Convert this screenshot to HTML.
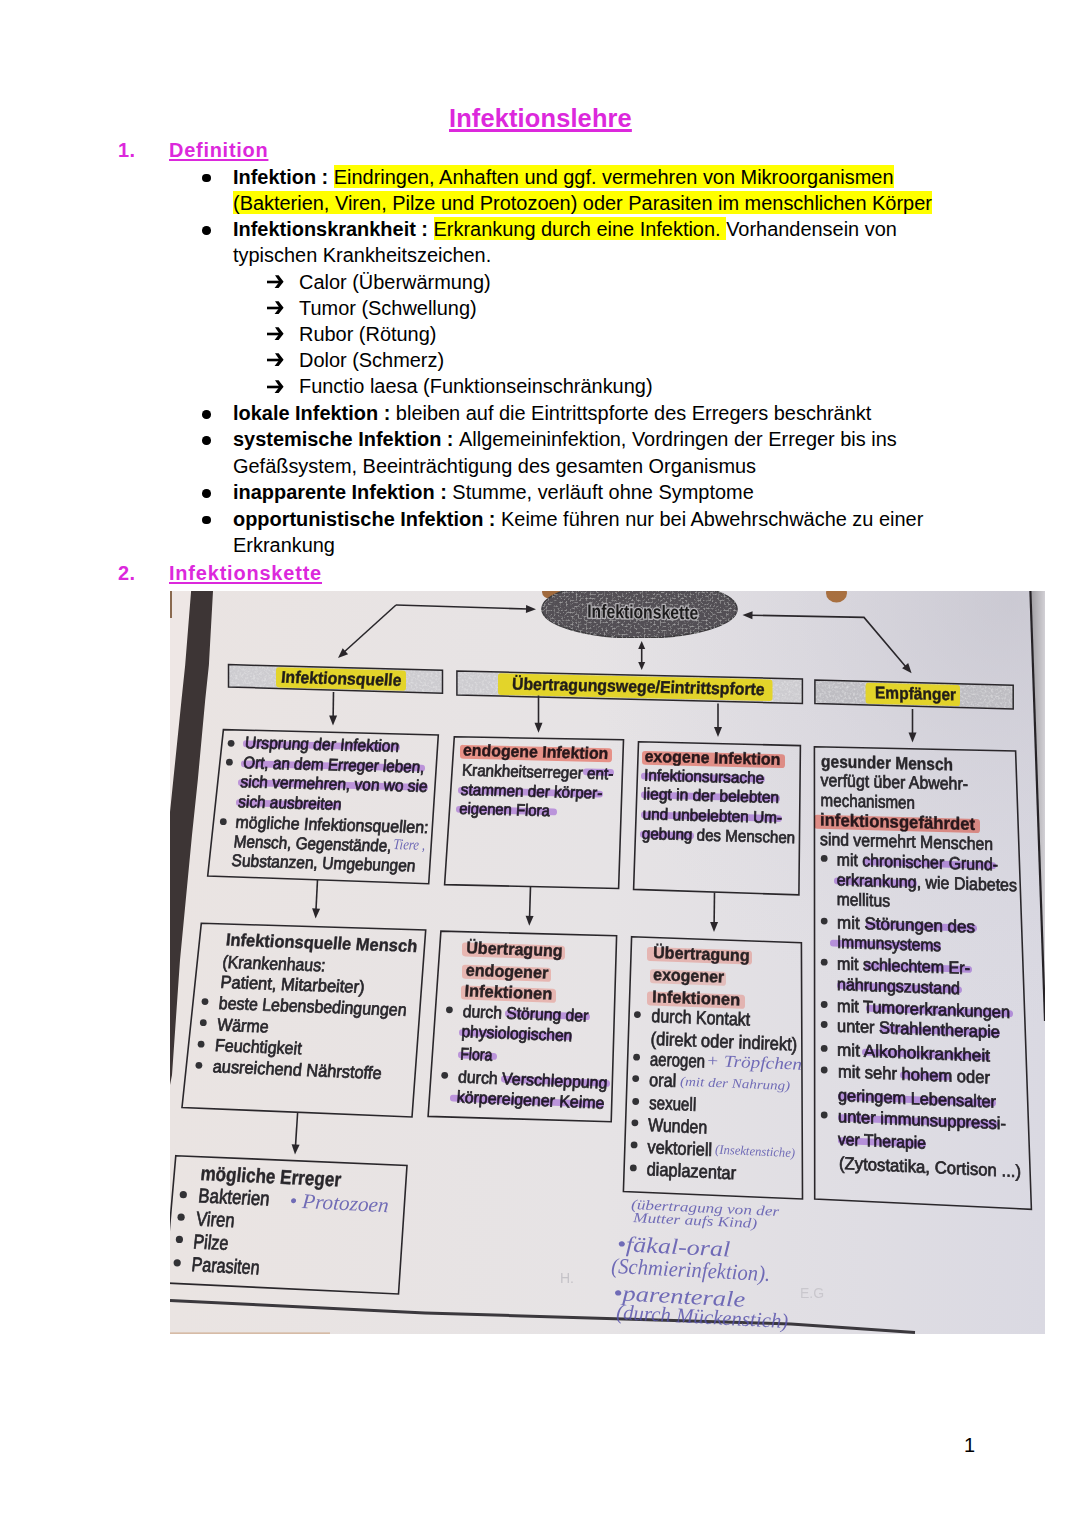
<!DOCTYPE html>
<html><head><meta charset="utf-8">
<style>
html,body{margin:0;padding:0;background:#fff;}
body{width:1080px;height:1525px;position:relative;overflow:hidden;font-family:"Liberation Sans",sans-serif;color:#000;}
.l{position:absolute;font-size:19.95px;line-height:26.4px;white-space:nowrap;}
.b{font-weight:bold;}
.hl{background:#ffff00;padding:1px 0 0 0;}
.mg{color:#dc28dc;font-weight:bold;}
.u{text-decoration:underline;text-decoration-thickness:2px;text-underline-offset:2px;}
.ut{text-decoration-thickness:2.5px;}
.blt{position:absolute;width:8.5px;height:8.5px;border-radius:50%;background:#000;margin:0.25px 0 0 0.1px;}
.ar{display:block;}
#photo{position:absolute;left:0;top:0;}
</style></head><body>
<div class="l mg u ut" style="left:449px;top:103px;font-size:25.4px;line-height:30px;letter-spacing:0.15px;">Infektionslehre</div>
<div class="l mg" style="left:118px;top:136.5px;letter-spacing:0.5px;">1.</div>
<div class="l mg u" style="left:169px;top:136.5px;letter-spacing:0.75px;">Definition</div>

<div class="blt" style="left:202px;top:173.5px"></div>
<div class="l" style="left:233px;top:163.5px;"><span class="b">Infektion : </span><span class="hl">Eindringen, Anhaften und ggf. vermehren von Mikroorganismen</span></div>
<div class="l" style="left:233px;top:190px;"><span class="hl">(Bakterien, Viren, Pilze und Protozoen) oder Parasiten im menschlichen Körper</span></div>
<div class="blt" style="left:202px;top:226px"></div>
<div class="l" style="left:233px;top:216px;"><span class="b">Infektionskrankheit : </span><span class="hl">Erkrankung durch eine Infektion. </span>Vorhandensein von</div>
<div class="l" style="left:233px;top:242.4px;">typischen Krankheitszeichen.</div>
<div style="position:absolute;left:267px;top:273.9px;width:20px;height:16px;"><svg class="ar" width="20" height="16" viewBox="0 -8 20 16"><rect x="0" y="-1.3" width="13" height="2.6" fill="#000"/><path d="M8,-6.8 L11.6,-6.8 L16.6,-0.2 L11.6,6 L7.6,6 L12.4,-0.2 Z" fill="#000"/></svg></div><div class="l" style="left:299px;top:268.5px;">Calor (Überwärmung)</div>
<div style="position:absolute;left:267px;top:299.9px;width:20px;height:16px;"><svg class="ar" width="20" height="16" viewBox="0 -8 20 16"><rect x="0" y="-1.3" width="13" height="2.6" fill="#000"/><path d="M8,-6.8 L11.6,-6.8 L16.6,-0.2 L11.6,6 L7.6,6 L12.4,-0.2 Z" fill="#000"/></svg></div><div class="l" style="left:299px;top:294.5px;">Tumor (Schwellung)</div>
<div style="position:absolute;left:267px;top:326.2px;width:20px;height:16px;"><svg class="ar" width="20" height="16" viewBox="0 -8 20 16"><rect x="0" y="-1.3" width="13" height="2.6" fill="#000"/><path d="M8,-6.8 L11.6,-6.8 L16.6,-0.2 L11.6,6 L7.6,6 L12.4,-0.2 Z" fill="#000"/></svg></div><div class="l" style="left:299px;top:320.8px;">Rubor (Rötung)</div>
<div style="position:absolute;left:267px;top:352.4px;width:20px;height:16px;"><svg class="ar" width="20" height="16" viewBox="0 -8 20 16"><rect x="0" y="-1.3" width="13" height="2.6" fill="#000"/><path d="M8,-6.8 L11.6,-6.8 L16.6,-0.2 L11.6,6 L7.6,6 L12.4,-0.2 Z" fill="#000"/></svg></div><div class="l" style="left:299px;top:347px;">Dolor (Schmerz)</div>
<div style="position:absolute;left:267px;top:378.6px;width:20px;height:16px;"><svg class="ar" width="20" height="16" viewBox="0 -8 20 16"><rect x="0" y="-1.3" width="13" height="2.6" fill="#000"/><path d="M8,-6.8 L11.6,-6.8 L16.6,-0.2 L11.6,6 L7.6,6 L12.4,-0.2 Z" fill="#000"/></svg></div><div class="l" style="left:299px;top:373.2px;">Functio laesa (Funktionseinschränkung)</div>
<div class="blt" style="left:202px;top:410px"></div>
<div class="l" style="left:233px;top:400px;"><span class="b">lokale Infektion : </span>bleiben auf die Eintrittspforte des Erregers beschränkt</div>
<div class="blt" style="left:202px;top:436px"></div>
<div class="l" style="left:233px;top:426.4px;"><span class="b">systemische Infektion : </span>Allgemeininfektion, Vordringen der Erreger bis ins</div>
<div class="l" style="left:233px;top:452.8px;">Gefäßsystem, Beeinträchtigung des gesamten Organismus</div>
<div class="blt" style="left:202px;top:489px"></div>
<div class="l" style="left:233px;top:479.2px;"><span class="b">inapparente Infektion : </span>Stumme, verläuft ohne Symptome</div>
<div class="blt" style="left:202px;top:515.5px"></div>
<div class="l" style="left:233px;top:505.6px;"><span class="b">opportunistische Infektion : </span>Keime führen nur bei Abwehrschwäche zu einer</div>
<div class="l" style="left:233px;top:532px;">Erkrankung</div>
<div class="l mg" style="left:118px;top:559.5px;letter-spacing:0.5px;">2.</div>
<div class="l mg u" style="left:169px;top:559.5px;letter-spacing:0.82px;">Infektionskette</div>

<div class="l" style="left:964px;top:1432px;">1</div>

<!--PHOTO-->
<svg id="photo" width="1080" height="1525" viewBox="0 0 1080 1525" font-family="Liberation Sans, sans-serif">
<defs>
<linearGradient id="bg" x1="0" y1="0" x2="1" y2="0"><stop offset="0" stop-color="rgb(234,228,226)"/><stop offset="0.5" stop-color="rgb(230,227,229)"/><stop offset="1" stop-color="rgb(218,217,226)"/></linearGradient>
<radialGradient id="tr" gradientUnits="userSpaceOnUse" cx="1010" cy="600" r="430"><stop offset="0" stop-color="rgb(190,188,198)" stop-opacity="0.55"/><stop offset="0.5" stop-color="rgb(200,198,208)" stop-opacity="0.25"/><stop offset="1" stop-color="rgb(210,208,218)" stop-opacity="0"/></radialGradient>
<linearGradient id="rs" x1="0" y1="0" x2="1" y2="0"><stop offset="0" stop-color="#a09ea2"/><stop offset="1" stop-color="#d2d0d5"/></linearGradient>
<clipPath id="pc"><rect x="170" y="591" width="875" height="743"/></clipPath>
<filter id="soft" x="0" y="0" width="1" height="1"><feGaussianBlur stdDeviation="0.4"/></filter>
<filter id="spk" x="0" y="0" width="1" height="1"><feTurbulence type="fractalNoise" baseFrequency="0.45" numOctaves="2" seed="7" result="t"/><feColorMatrix in="t" type="matrix" values="0 0 0 0 0.85  0 0 0 0 0.85  0 0 0 0 0.86  1.3 0 0 0 -0.58" result="w"/><feComposite in="w" in2="SourceGraphic" operator="in" result="wn"/><feMerge><feMergeNode in="SourceGraphic"/><feMergeNode in="wn"/></feMerge></filter>
<filter id="spk2" x="0" y="0" width="1" height="1"><feTurbulence type="fractalNoise" baseFrequency="0.5" numOctaves="2" seed="11" result="t"/><feColorMatrix in="t" type="matrix" values="0 0 0 0 0.8  0 0 0 0 0.8  0 0 0 0 0.8  1.2 0 0 0 -0.6" result="w"/><feComposite in="w" in2="SourceGraphic" operator="in" result="wn"/><feMerge><feMergeNode in="SourceGraphic"/><feMergeNode in="wn"/></feMerge></filter>
</defs>
<g clip-path="url(#pc)">
<g filter="url(#soft)">
<rect x="170" y="591" width="875" height="743" fill="url(#bg)"/>
<rect x="170" y="591" width="875" height="743" fill="url(#tr)"/>
<polygon points="170,591 192,591 170,815" fill="#eee7e5"/>
<polygon points="191.1,591 213,591 208.9,665 205.2,700 197.8,780 192,835 180,960 172,1075 170,1085 170,812 173.3,780 181.5,700 185.2,665" fill="#3d3534"/>
<line x1="171" y1="591" x2="171" y2="618" stroke="#8a6a50" stroke-width="2"/>
<polygon points="1031,591 1045,591 1045,1020" fill="url(#rs)"/>
<line x1="1030.4" y1="591" x2="1045" y2="1021" stroke="#262428" stroke-width="2.2"/>
<line x1="170" y1="1333.2" x2="330" y2="1333.2" stroke="#cfae92" stroke-width="1.2"/>
<ellipse cx="551" cy="592" rx="9" ry="7" fill="#a06a3e"/>
<ellipse cx="836.5" cy="593" rx="10.5" ry="9.5" fill="#a8703f"/>
<ellipse cx="639.5" cy="609" rx="97.6" ry="29" fill="#525055" stroke="#3c3a3e" stroke-width="1.4" filter="url(#spk2)"/>
<text transform="matrix(1,0.015,0,1,587.2,617.6)" font-size="19" font-weight="bold" fill="#1c1a1c" stroke="#b4b2b6" stroke-width="2.6" paint-order="stroke" textLength="111" lengthAdjust="spacingAndGlyphs">Infektionskette</text>
<polyline points="396,605 528,609" fill="none" stroke="#2a282c" stroke-width="1.6"/>
<polygon points="536.0,609.3 525.9,613.0 526.1,605.0" fill="#2a282c"/>
<polyline points="396,605 343,653" fill="none" stroke="#2a282c" stroke-width="1.6"/>
<polygon points="338.0,658.0 342.7,648.3 348.1,654.3" fill="#2a282c"/>
<polyline points="750,615.2 864,617.4 906,667" fill="none" stroke="#2a282c" stroke-width="1.6"/>
<polygon points="742.5,615.0 752.6,611.2 752.4,619.2" fill="#2a282c"/>
<polygon points="911.6,673.2 902.1,668.2 908.2,663.0" fill="#2a282c"/>
<line x1="641.7" y1="647.0" x2="641.7" y2="664.0" stroke="#2a282c" stroke-width="1.6"/>
<polygon points="641.7,641.0 645.2,649.0 638.2,649.0" fill="#2a282c"/>
<polygon points="641.7,670.0 638.2,662.0 645.2,662.0" fill="#2a282c"/>
<polygon points="228.5,664.6 442.5,670.3 442.5,693.3 228.5,687.0" fill="#cdccd0" filter="url(#spk)"/>
<polygon points="228.5,664.6 442.5,670.3 442.5,693.3 228.5,687.0" fill="none" stroke="#2a282c" stroke-width="1.5"/>
<rect transform="matrix(1,0.0266,0,1,276.0,667.2)" x="0" y="0" width="130.0" height="20.1" rx="3" fill="#e4d421" opacity="0.95"/>
<text transform="matrix(1,0.0266,-0.0913,1,280.7,682.7)" font-size="17" font-weight="bold" fill="#221f1a" stroke="#221f1a" stroke-width="0.4" textLength="120.3" lengthAdjust="spacingAndGlyphs">Infektionsquelle</text>
<polygon points="456.9,671.1 802.4,678.9 802.4,703.5 456.9,695.0" fill="#cdccd0" filter="url(#spk)"/>
<polygon points="456.9,671.1 802.4,678.9 802.4,703.5 456.9,695.0" fill="none" stroke="#2a282c" stroke-width="1.5"/>
<rect transform="matrix(1,0.0226,0,1,498.0,673.3)" x="0" y="0" width="274.5" height="21.6" rx="3" fill="#e4d421" opacity="0.95"/>
<text transform="matrix(1,0.0226,-0.0522,1,511.7,689.4)" font-size="17" font-weight="bold" fill="#221f1a" stroke="#221f1a" stroke-width="0.4" textLength="252.7" lengthAdjust="spacingAndGlyphs">Übertragungswege/Eintrittspforte</text>
<polygon points="814.9,680.1 1013.2,685.2 1013.2,708.9 814.9,703.4" fill="#bebdc2" filter="url(#spk)"/>
<polygon points="814.9,680.1 1013.2,685.2 1013.2,708.9 814.9,703.4" fill="none" stroke="#2a282c" stroke-width="1.5"/>
<rect transform="matrix(1,0.0257,0,1,865.6,682.7)" x="0" y="0" width="94.4" height="21.0" rx="3" fill="#e4d421" opacity="0.95"/>
<text transform="matrix(1,0.0257,0.0094,1,875.0,698.3)" font-size="17" font-weight="bold" fill="#221f1a" stroke="#221f1a" stroke-width="0.4" textLength="81.1" lengthAdjust="spacingAndGlyphs">Empfänger</text>
<line x1="333.5" y1="692.0" x2="333.1" y2="718.5" stroke="#2a282c" stroke-width="1.6"/>
<polygon points="333.0,725.5 329.1,715.4 337.1,715.6" fill="#2a282c"/>
<line x1="538.5" y1="695.5" x2="538.5" y2="725.7" stroke="#2a282c" stroke-width="1.6"/>
<polygon points="538.5,732.7 534.5,722.7 542.5,722.7" fill="#2a282c"/>
<line x1="718.0" y1="703.5" x2="718.0" y2="730.0" stroke="#2a282c" stroke-width="1.6"/>
<polygon points="718.0,737.0 714.0,727.0 722.0,727.0" fill="#2a282c"/>
<line x1="912.5" y1="709.0" x2="912.5" y2="735.4" stroke="#2a282c" stroke-width="1.6"/>
<polygon points="912.5,742.4 908.5,732.4 916.5,732.4" fill="#2a282c"/>
<polygon points="223.4,729.6 438.3,735.0 428.7,883.7 207.7,876.0" fill="none" stroke="#2a282c" stroke-width="1.6"/>
<polygon points="454.3,736.8 623.5,739.7 618.6,888.5 444.6,884.6" fill="none" stroke="#2a282c" stroke-width="1.6"/>
<polygon points="638.5,741.7 800.4,745.6 798.9,894.9 633.6,889.4" fill="none" stroke="#2a282c" stroke-width="1.6"/>
<polygon points="814.4,746.7 1015.6,751.0 1031.4,1209.3 814.7,1199.1" fill="none" stroke="#2a282c" stroke-width="1.6"/>
<polygon points="201.3,923.3 425.7,930.0 412.0,1117.0 182.0,1107.5" fill="none" stroke="#2a282c" stroke-width="1.6"/>
<polygon points="440.9,931.1 616.6,935.8 611.2,1121.7 428.1,1116.4" fill="none" stroke="#2a282c" stroke-width="1.6"/>
<polygon points="631.6,936.7 801.4,942.7 802.5,1199.0 623.4,1191.5" fill="none" stroke="#2a282c" stroke-width="1.6"/>
<polygon points="175.8,1155.7 407.0,1165.4 398.5,1294.0 164.7,1283.0" fill="none" stroke="#2a282c" stroke-width="1.6"/>
<line x1="317.5" y1="880.0" x2="315.9" y2="911.5" stroke="#2a282c" stroke-width="1.6"/>
<polygon points="315.6,918.5 312.1,908.3 320.1,908.7" fill="#2a282c"/>
<line x1="530.5" y1="886.5" x2="529.5" y2="918.8" stroke="#2a282c" stroke-width="1.6"/>
<polygon points="529.3,925.8 525.6,915.7 533.6,915.9" fill="#2a282c"/>
<line x1="714.5" y1="892.5" x2="714.1" y2="925.0" stroke="#2a282c" stroke-width="1.6"/>
<polygon points="714.0,932.0 710.1,922.0 718.1,922.1" fill="#2a282c"/>
<line x1="297.6" y1="1113.0" x2="295.4" y2="1147.5" stroke="#2a282c" stroke-width="1.6"/>
<polygon points="295.0,1154.5 291.6,1144.3 299.6,1144.8" fill="#2a282c"/>
<polyline points="170,1300.5 425,1313 791,1324 915,1332.5" fill="none" stroke="#3a383c" stroke-width="3"/>
<circle cx="231.1" cy="743.3" r="3.4" fill="#333136"/>
<circle cx="229.4" cy="762.2" r="3.4" fill="#333136"/>
<circle cx="223.3" cy="821.7" r="3.4" fill="#333136"/>
<text transform="matrix(1,0.0235,-0.0975,1,244.4,748.3)" font-size="17" fill="#29272c" stroke="#29272c" stroke-width="0.7" textLength="154.2" lengthAdjust="spacingAndGlyphs">Ursprung der Infektion</text>
<text transform="matrix(1,0.0246,-0.0977,1,242.8,768.3)" font-size="17" fill="#29272c" stroke="#29272c" stroke-width="0.7" textLength="181.2" lengthAdjust="spacingAndGlyphs">Ort, an dem Erreger leben,</text>
<text transform="matrix(1,0.0255,-0.0982,1,240.0,787.2)" font-size="17" fill="#29272c" stroke="#29272c" stroke-width="0.7" textLength="187.0" lengthAdjust="spacingAndGlyphs">sich vermehren, von wo sie</text>
<text transform="matrix(1,0.0266,-0.0986,1,237.8,807.2)" font-size="17" fill="#29272c" stroke="#29272c" stroke-width="0.7" textLength="103.2" lengthAdjust="spacingAndGlyphs">sich ausbreiten</text>
<text transform="matrix(1,0.0276,-0.0991,1,235.0,827.8)" font-size="17" fill="#29272c" stroke="#29272c" stroke-width="0.7" textLength="193.0" lengthAdjust="spacingAndGlyphs">mögliche Infektionsquellen:</text>
<text transform="matrix(1,0.0287,-0.0994,1,233.3,847.2)" font-size="17" fill="#29272c" stroke="#29272c" stroke-width="0.7" textLength="157.7" lengthAdjust="spacingAndGlyphs">Mensch, Gegenstände,</text>
<text transform="matrix(1,0.0287,-0.0723,1,393.0,849.0)" font-size="15" fill="#5752ad" textLength="32.0" lengthAdjust="spacingAndGlyphs" opacity="0.85" font-family="Liberation Serif, serif" font-style="italic">Tiere ,</text>
<text transform="matrix(1,0.0296,-0.0997,1,231.1,866.1)" font-size="17" fill="#29272c" stroke="#29272c" stroke-width="0.7" textLength="183.9" lengthAdjust="spacingAndGlyphs">Substanzen, Umgebungen</text>
<text transform="matrix(1,0.0239,-0.0605,1,462.8,755.6)" font-size="16.5" font-weight="bold" fill="#29272c" stroke="#29272c" stroke-width="0.4" textLength="145.2" lengthAdjust="spacingAndGlyphs">endogene Infektion</text>
<text transform="matrix(1,0.0249,-0.0606,1,461.7,775.6)" font-size="16.5" fill="#29272c" stroke="#29272c" stroke-width="0.7" textLength="151.3" lengthAdjust="spacingAndGlyphs">Krankheitserreger ent-</text>
<text transform="matrix(1,0.0259,-0.0608,1,460.6,795.0)" font-size="16.5" fill="#29272c" stroke="#29272c" stroke-width="0.7" textLength="141.4" lengthAdjust="spacingAndGlyphs">stammen der körper-</text>
<text transform="matrix(1,0.0269,-0.0611,1,458.9,813.9)" font-size="16.5" fill="#29272c" stroke="#29272c" stroke-width="0.7" textLength="90.5" lengthAdjust="spacingAndGlyphs">eigenen Flora</text>
<text transform="matrix(1,0.0242,-0.0297,1,644.4,761.7)" font-size="16.5" font-weight="bold" fill="#29272c" stroke="#29272c" stroke-width="0.4" textLength="136.0" lengthAdjust="spacingAndGlyphs">exogene Infektion</text>
<text transform="matrix(1,0.0252,-0.0298,1,643.9,780.6)" font-size="16.5" fill="#29272c" stroke="#29272c" stroke-width="0.7" textLength="120.1" lengthAdjust="spacingAndGlyphs">Infektionsursache</text>
<text transform="matrix(1,0.0262,-0.0299,1,643.1,799.4)" font-size="16.5" fill="#29272c" stroke="#29272c" stroke-width="0.7" textLength="135.9" lengthAdjust="spacingAndGlyphs">liegt in der belebten</text>
<text transform="matrix(1,0.0272,-0.0300,1,642.4,819.4)" font-size="16.5" fill="#29272c" stroke="#29272c" stroke-width="0.7" textLength="139.6" lengthAdjust="spacingAndGlyphs">und unbelebten Um-</text>
<text transform="matrix(1,0.0282,-0.0301,1,641.7,838.9)" font-size="16.5" fill="#29272c" stroke="#29272c" stroke-width="0.7" textLength="153.3" lengthAdjust="spacingAndGlyphs">gebung des Menschen</text>
<text transform="matrix(1,0.0245,0.0003,1,821.1,767.2)" font-size="17.5" font-weight="bold" fill="#29272c" stroke="#29272c" stroke-width="0.4" textLength="131.9" lengthAdjust="spacingAndGlyphs">gesunder Mensch</text>
<text transform="matrix(1,0.0255,0.0002,1,820.6,786.1)" font-size="17.5" fill="#29272c" stroke="#29272c" stroke-width="0.7" textLength="147.4" lengthAdjust="spacingAndGlyphs">verfügt über Abwehr-</text>
<text transform="matrix(1,0.0265,0.0002,1,820.6,806.1)" font-size="17.5" fill="#29272c" stroke="#29272c" stroke-width="0.7" textLength="94.4" lengthAdjust="spacingAndGlyphs">mechanismen</text>
<text transform="matrix(1,0.0275,0.0001,1,820.0,825.6)" font-size="17.5" font-weight="bold" fill="#29272c" stroke="#29272c" stroke-width="0.4" textLength="155.0" lengthAdjust="spacingAndGlyphs">infektionsgefährdet</text>
<text transform="matrix(1,0.0285,0.0001,1,820.0,845.0)" font-size="17.5" fill="#29272c" stroke="#29272c" stroke-width="0.7" textLength="173.0" lengthAdjust="spacingAndGlyphs">sind vermehrt Menschen</text>
<circle cx="824.2" cy="858.4" r="3.4" fill="#333136"/>
<text transform="matrix(1,0.0296,0.0029,1,836.7,865.6)" font-size="17.5" fill="#29272c" stroke="#29272c" stroke-width="0.7" textLength="161.3" lengthAdjust="spacingAndGlyphs">mit chronischer Grund-</text>
<text transform="matrix(1,0.0307,0.0029,1,836.7,885.6)" font-size="17.5" fill="#29272c" stroke="#29272c" stroke-width="0.7" textLength="180.3" lengthAdjust="spacingAndGlyphs">erkrankung, wie Diabetes</text>
<text transform="matrix(1,0.0317,0.0029,1,836.7,905.0)" font-size="17.5" fill="#29272c" stroke="#29272c" stroke-width="0.7" textLength="53.3" lengthAdjust="spacingAndGlyphs">mellitus</text>
<circle cx="824.2" cy="921.1" r="3.4" fill="#333136"/>
<text transform="matrix(1,0.0329,0.0030,1,837.0,928.3)" font-size="17.5" fill="#29272c" stroke="#29272c" stroke-width="0.7" textLength="138.0" lengthAdjust="spacingAndGlyphs">mit Störungen des</text>
<text transform="matrix(1,0.0339,0.0030,1,837.0,947.8)" font-size="17.5" fill="#29272c" stroke="#29272c" stroke-width="0.7" textLength="104.0" lengthAdjust="spacingAndGlyphs">Immunsystems</text>
<circle cx="824.2" cy="962.2" r="3.4" fill="#333136"/>
<text transform="matrix(1,0.0350,0.0030,1,837.0,969.4)" font-size="17.5" fill="#29272c" stroke="#29272c" stroke-width="0.7" textLength="133.0" lengthAdjust="spacingAndGlyphs">mit schlechtem Er-</text>
<text transform="matrix(1,0.0361,0.0030,1,837.0,990.0)" font-size="17.5" fill="#29272c" stroke="#29272c" stroke-width="0.7" textLength="123.0" lengthAdjust="spacingAndGlyphs">nährungszustand</text>
<circle cx="824.2" cy="1004.5" r="3.4" fill="#333136"/>
<text transform="matrix(1,0.0372,0.0030,1,837.0,1011.7)" font-size="17.5" fill="#29272c" stroke="#29272c" stroke-width="0.7" textLength="173.0" lengthAdjust="spacingAndGlyphs">mit Tumorerkrankungen</text>
<circle cx="824.2" cy="1024.5" r="3.4" fill="#333136"/>
<text transform="matrix(1,0.0382,0.0030,1,837.0,1031.7)" font-size="17.5" fill="#29272c" stroke="#29272c" stroke-width="0.7" textLength="163.0" lengthAdjust="spacingAndGlyphs">unter Strahlentherapie</text>
<circle cx="824.2" cy="1048.4" r="3.4" fill="#333136"/>
<text transform="matrix(1,0.0395,0.0030,1,837.0,1055.6)" font-size="17.5" fill="#29272c" stroke="#29272c" stroke-width="0.7" textLength="153.0" lengthAdjust="spacingAndGlyphs">mit Alkoholkrankheit</text>
<circle cx="824.2" cy="1070.0" r="3.4" fill="#333136"/>
<text transform="matrix(1,0.0406,0.0031,1,838.0,1077.2)" font-size="17.5" fill="#29272c" stroke="#29272c" stroke-width="0.7" textLength="152.0" lengthAdjust="spacingAndGlyphs">mit sehr hohem oder</text>
<text transform="matrix(1,0.0419,0.0031,1,838.0,1101.1)" font-size="17.5" fill="#29272c" stroke="#29272c" stroke-width="0.7" textLength="158.0" lengthAdjust="spacingAndGlyphs">geringem Lebensalter</text>
<circle cx="824.2" cy="1115.0" r="3.4" fill="#333136"/>
<text transform="matrix(1,0.0430,0.0031,1,838.0,1122.2)" font-size="17.5" fill="#29272c" stroke="#29272c" stroke-width="0.7" textLength="168.0" lengthAdjust="spacingAndGlyphs">unter immunsuppressi-</text>
<text transform="matrix(1,0.0441,0.0031,1,838.0,1145.0)" font-size="17.5" fill="#29272c" stroke="#29272c" stroke-width="0.7" textLength="88.0" lengthAdjust="spacingAndGlyphs">ver Therapie</text>
<text transform="matrix(1,0.0454,0.0033,1,839.0,1168.9)" font-size="17.5" fill="#29272c" stroke="#29272c" stroke-width="0.7" textLength="182.0" lengthAdjust="spacingAndGlyphs">(Zytostatika, Cortison ...)</text>
<text transform="matrix(1,0.0338,-0.1007,1,225.4,945.6)" font-size="17.5" font-weight="bold" fill="#29272c" stroke="#29272c" stroke-width="0.4" textLength="191.3" lengthAdjust="spacingAndGlyphs">Infektionsquelle Mensch</text>
<text transform="matrix(1,0.0349,-0.1013,1,222.0,967.8)" font-size="17.5" fill="#29272c" stroke="#29272c" stroke-width="0.7" textLength="103.0" lengthAdjust="spacingAndGlyphs">(Krankenhaus:</text>
<text transform="matrix(1,0.0360,-0.1016,1,220.0,987.8)" font-size="17.5" fill="#29272c" stroke="#29272c" stroke-width="0.7" textLength="144.0" lengthAdjust="spacingAndGlyphs">Patient, Mitarbeiter)</text>
<circle cx="205.0" cy="1001.6" r="3.4" fill="#333136"/>
<circle cx="203.3" cy="1022.7" r="3.4" fill="#333136"/>
<circle cx="201.1" cy="1044.2" r="3.4" fill="#333136"/>
<circle cx="198.9" cy="1065.3" r="3.4" fill="#333136"/>
<text transform="matrix(1,0.0371,-0.1019,1,218.3,1008.9)" font-size="17.5" fill="#29272c" stroke="#29272c" stroke-width="0.7" textLength="187.7" lengthAdjust="spacingAndGlyphs">beste Lebensbedingungen</text>
<text transform="matrix(1,0.0382,-0.1022,1,216.7,1030.6)" font-size="17.5" fill="#29272c" stroke="#29272c" stroke-width="0.7" textLength="51.3" lengthAdjust="spacingAndGlyphs">Wärme</text>
<text transform="matrix(1,0.0393,-0.1026,1,214.4,1051.1)" font-size="17.5" fill="#29272c" stroke="#29272c" stroke-width="0.7" textLength="86.7" lengthAdjust="spacingAndGlyphs">Feuchtigkeit</text>
<text transform="matrix(1,0.0404,-0.1029,1,212.2,1072.2)" font-size="17.5" fill="#29272c" stroke="#29272c" stroke-width="0.7" textLength="168.8" lengthAdjust="spacingAndGlyphs">ausreichend Nährstoffe</text>
<text transform="matrix(1,0.0342,-0.0599,1,466.0,953.3)" font-size="17" font-weight="bold" fill="#29272c" stroke="#29272c" stroke-width="0.4" textLength="96.3" lengthAdjust="spacingAndGlyphs">Übertragung</text>
<text transform="matrix(1,0.0353,-0.0600,1,465.4,975.7)" font-size="17" font-weight="bold" fill="#29272c" stroke="#29272c" stroke-width="0.4" textLength="82.6" lengthAdjust="spacingAndGlyphs">endogener</text>
<text transform="matrix(1,0.0364,-0.0602,1,464.2,996.4)" font-size="17" font-weight="bold" fill="#29272c" stroke="#29272c" stroke-width="0.4" textLength="87.8" lengthAdjust="spacingAndGlyphs">Infektionen</text>
<circle cx="449.4" cy="1009.8" r="3.4" fill="#333136"/>
<circle cx="444.7" cy="1075.3" r="3.4" fill="#333136"/>
<text transform="matrix(1,0.0375,-0.0605,1,462.4,1017.0)" font-size="17" fill="#29272c" stroke="#29272c" stroke-width="0.7" textLength="125.6" lengthAdjust="spacingAndGlyphs">durch Störung der</text>
<text transform="matrix(1,0.0385,-0.0607,1,461.2,1037.1)" font-size="17" fill="#29272c" stroke="#29272c" stroke-width="0.7" textLength="110.8" lengthAdjust="spacingAndGlyphs">physiologischen</text>
<text transform="matrix(1,0.0397,-0.0609,1,460.0,1059.5)" font-size="17" fill="#29272c" stroke="#29272c" stroke-width="0.7" textLength="32.0" lengthAdjust="spacingAndGlyphs">Flora</text>
<text transform="matrix(1,0.0409,-0.0613,1,457.7,1082.5)" font-size="17" fill="#29272c" stroke="#29272c" stroke-width="0.7" textLength="149.3" lengthAdjust="spacingAndGlyphs">durch Verschleppung</text>
<text transform="matrix(1,0.0419,-0.0615,1,456.5,1102.6)" font-size="17" fill="#29272c" stroke="#29272c" stroke-width="0.7" textLength="147.5" lengthAdjust="spacingAndGlyphs">körpereigener Keime</text>
<text transform="matrix(1,0.0344,-0.0282,1,653.0,958.0)" font-size="17" font-weight="bold" fill="#29272c" stroke="#29272c" stroke-width="0.4" textLength="96.5" lengthAdjust="spacingAndGlyphs">Übertragung</text>
<text transform="matrix(1,0.0356,-0.0282,1,653.0,980.2)" font-size="17" font-weight="bold" fill="#29272c" stroke="#29272c" stroke-width="0.4" textLength="71.0" lengthAdjust="spacingAndGlyphs">exogener</text>
<text transform="matrix(1,0.0367,-0.0284,1,652.1,1002.3)" font-size="17" font-weight="bold" fill="#29272c" stroke="#29272c" stroke-width="0.4" textLength="87.9" lengthAdjust="spacingAndGlyphs">Infektionen</text>
<circle cx="637.4" cy="1014.6" r="3.4" fill="#333136"/>
<circle cx="636.6" cy="1057.2" r="3.4" fill="#333136"/>
<circle cx="635.7" cy="1078.6" r="3.4" fill="#333136"/>
<circle cx="635.7" cy="1101.5" r="3.4" fill="#333136"/>
<circle cx="634.9" cy="1122.8" r="3.4" fill="#333136"/>
<circle cx="634.1" cy="1144.9" r="3.4" fill="#333136"/>
<circle cx="633.3" cy="1167.9" r="3.4" fill="#333136"/>
<text transform="matrix(1,0.0377,-0.0285,1,651.3,1022.0)" font-size="18.5" fill="#29272c" stroke="#29272c" stroke-width="0.7" textLength="98.7" lengthAdjust="spacingAndGlyphs">durch Kontakt</text>
<text transform="matrix(1,0.0389,-0.0286,1,650.5,1044.9)" font-size="18.5" fill="#29272c" stroke="#29272c" stroke-width="0.7" textLength="146.5" lengthAdjust="spacingAndGlyphs">(direkt oder indirekt)</text>
<text transform="matrix(1,0.0400,-0.0288,1,649.7,1065.4)" font-size="18.5" fill="#29272c" stroke="#29272c" stroke-width="0.7" textLength="55.3" lengthAdjust="spacingAndGlyphs">aerogen</text>
<text transform="matrix(1,0.0411,-0.0289,1,649.0,1085.9)" font-size="18.5" fill="#29272c" stroke="#29272c" stroke-width="0.7" textLength="27.0" lengthAdjust="spacingAndGlyphs">oral</text>
<text transform="matrix(1,0.0423,-0.0289,1,648.9,1108.9)" font-size="18.5" fill="#29272c" stroke="#29272c" stroke-width="0.7" textLength="47.1" lengthAdjust="spacingAndGlyphs">sexuell</text>
<text transform="matrix(1,0.0434,-0.0291,1,648.0,1131.0)" font-size="18.5" fill="#29272c" stroke="#29272c" stroke-width="0.7" textLength="59.0" lengthAdjust="spacingAndGlyphs">Wunden</text>
<text transform="matrix(1,0.0446,-0.0292,1,647.2,1153.1)" font-size="18.5" fill="#29272c" stroke="#29272c" stroke-width="0.7" textLength="64.8" lengthAdjust="spacingAndGlyphs">vektoriell</text>
<text transform="matrix(1,0.0457,-0.0293,1,646.4,1175.2)" font-size="18.5" fill="#29272c" stroke="#29272c" stroke-width="0.7" textLength="89.6" lengthAdjust="spacingAndGlyphs">diaplazentar</text>
<text transform="matrix(1,0.0460,-0.1050,1,199.9,1180.0)" font-size="20" font-weight="bold" fill="#29272c" stroke="#29272c" stroke-width="0.4" textLength="140.4" lengthAdjust="spacingAndGlyphs">mögliche Erreger</text>
<circle cx="183.3" cy="1194.7" r="3.6" fill="#333136"/>
<circle cx="181.1" cy="1217.2" r="3.6" fill="#333136"/>
<circle cx="179.4" cy="1239.4" r="3.6" fill="#333136"/>
<circle cx="177.2" cy="1262.8" r="3.6" fill="#333136"/>
<text transform="matrix(1,0.0471,-0.1054,1,197.8,1202.2)" font-size="20" fill="#29272c" stroke="#29272c" stroke-width="0.7" textLength="71.1" lengthAdjust="spacingAndGlyphs">Bakterien</text>
<text transform="matrix(1,0.0483,-0.1057,1,195.6,1225.4)" font-size="20" fill="#29272c" stroke="#29272c" stroke-width="0.7" textLength="38.3" lengthAdjust="spacingAndGlyphs">Viren</text>
<text transform="matrix(1,0.0495,-0.1062,1,192.8,1248.3)" font-size="20" fill="#29272c" stroke="#29272c" stroke-width="0.7" textLength="35.0" lengthAdjust="spacingAndGlyphs">Pilze</text>
<text transform="matrix(1,0.0507,-0.1065,1,191.1,1271.0)" font-size="20" fill="#29272c" stroke="#29272c" stroke-width="0.7" textLength="67.8" lengthAdjust="spacingAndGlyphs">Parasiten</text>
<text transform="matrix(1,0.0474,-0.0899,1,289.0,1207.5)" font-size="21" fill="#5752ad" textLength="99.0" lengthAdjust="spacingAndGlyphs" opacity="0.82" font-family="Liberation Serif, serif" font-style="italic">• Protozoen</text>
<text transform="matrix(1,0.0400,-0.0192,1,706.0,1066.0)" font-size="17" fill="#5752ad" textLength="96.0" lengthAdjust="spacingAndGlyphs" opacity="0.82" font-family="Liberation Serif, serif" font-style="italic">+ Tröpfchen</text>
<text transform="matrix(1,0.0410,-0.0236,1,680.0,1085.5)" font-size="13" fill="#5752ad" textLength="110.0" lengthAdjust="spacingAndGlyphs" opacity="0.82" font-family="Liberation Serif, serif" font-style="italic">(mit der Nahrung)</text>
<text transform="matrix(1,0.0446,-0.0177,1,715.0,1153.6)" font-size="13" fill="#5752ad" textLength="80.0" lengthAdjust="spacingAndGlyphs" opacity="0.82" font-family="Liberation Serif, serif" font-style="italic">(Insektenstiche)</text>
<text transform="matrix(1,0.0475,-0.0319,1,631.0,1209.0)" font-size="14" fill="#5752ad" textLength="148.0" lengthAdjust="spacingAndGlyphs" opacity="0.82" font-family="Liberation Serif, serif" font-style="italic">(übertragung von der</text>
<text transform="matrix(1,0.0481,-0.0316,1,633.0,1222.0)" font-size="14" fill="#5752ad" textLength="124.0" lengthAdjust="spacingAndGlyphs" opacity="0.82" font-family="Liberation Serif, serif" font-style="italic">Mutter aufs Kind)</text>
<text transform="matrix(1,0.0497,-0.0344,1,616.7,1251.0)" font-size="22" fill="#5752ad" textLength="113.3" lengthAdjust="spacingAndGlyphs" opacity="0.82" font-family="Liberation Serif, serif" font-style="italic">•fäkal-oral</text>
<text transform="matrix(1,0.0508,-0.0353,1,611.0,1273.0)" font-size="22" fill="#5752ad" textLength="159.0" lengthAdjust="spacingAndGlyphs" opacity="0.82" font-family="Liberation Serif, serif" font-style="italic">(Schmierinfektion).</text>
<text transform="matrix(1,0.0522,-0.0350,1,613.0,1300.0)" font-size="22" fill="#5752ad" textLength="132.0" lengthAdjust="spacingAndGlyphs" opacity="0.82" font-family="Liberation Serif, serif" font-style="italic">•parenterale</text>
<text transform="matrix(1,0.0532,-0.0345,1,616.0,1319.0)" font-size="21" fill="#5752ad" textLength="172.0" lengthAdjust="spacingAndGlyphs" opacity="0.82" font-family="Liberation Serif, serif" font-style="italic">(durch Mückenstich)</text>
<text x="560" y="1283" font-size="14" fill="#b8b6bc" opacity="0.7">H.</text>
<text x="800" y="1298" font-size="14" fill="#c0bec4" opacity="0.7">E.G</text>
<rect transform="matrix(1,0.0235,0,1,243.0,748.3)" x="0" y="-8.0" width="157.0" height="6.8" rx="3.2" fill="#cfa6f4" style="mix-blend-mode:multiply"/>
<rect transform="matrix(1,0.0246,0,1,241.0,768.3)" x="0" y="-8.0" width="184.0" height="6.8" rx="3.2" fill="#cfa6f4" style="mix-blend-mode:multiply"/>
<rect transform="matrix(1,0.0255,0,1,238.0,787.2)" x="0" y="-8.0" width="190.0" height="6.8" rx="3.2" fill="#cfa6f4" style="mix-blend-mode:multiply"/>
<rect transform="matrix(1,0.0266,0,1,236.0,807.2)" x="0" y="-8.0" width="105.0" height="6.8" rx="3.2" fill="#cfa6f4" style="mix-blend-mode:multiply"/>
<rect transform="matrix(1,0.0239,0,1,460.0,755.6)" x="0" y="-10.8" width="152.0" height="13.8" rx="3.2" fill="#ffa397" style="mix-blend-mode:multiply"/>
<rect transform="matrix(1,0.0250,0,1,583.0,776.4)" x="0" y="-8.0" width="31.0" height="6.8" rx="3.2" fill="#cfa6f4" style="mix-blend-mode:multiply"/>
<rect transform="matrix(1,0.0259,0,1,458.0,795.0)" x="0" y="-8.0" width="145.0" height="6.8" rx="3.2" fill="#cfa6f4" style="mix-blend-mode:multiply"/>
<rect transform="matrix(1,0.0269,0,1,456.0,813.9)" x="0" y="-8.0" width="101.0" height="6.8" rx="3.2" fill="#cfa6f4" style="mix-blend-mode:multiply"/>
<rect transform="matrix(1,0.0242,0,1,642.0,761.7)" x="0" y="-10.8" width="143.0" height="13.8" rx="3.2" fill="#ffa397" style="mix-blend-mode:multiply"/>
<rect transform="matrix(1,0.0252,0,1,641.0,780.6)" x="0" y="-8.0" width="124.0" height="6.8" rx="3.2" fill="#cfa6f4" style="mix-blend-mode:multiply"/>
<rect transform="matrix(1,0.0262,0,1,641.0,799.4)" x="0" y="-8.0" width="139.0" height="6.8" rx="3.2" fill="#cfa6f4" style="mix-blend-mode:multiply"/>
<rect transform="matrix(1,0.0272,0,1,641.0,819.4)" x="0" y="-8.0" width="141.0" height="6.8" rx="3.2" fill="#cfa6f4" style="mix-blend-mode:multiply"/>
<rect transform="matrix(1,0.0282,0,1,640.0,838.9)" x="0" y="-8.0" width="54.0" height="6.8" rx="3.2" fill="#cfa6f4" style="mix-blend-mode:multiply"/>
<rect transform="matrix(1,0.0275,0,1,814.0,825.6)" x="0" y="-11.0" width="166.0" height="14.0" rx="3.2" fill="#ffa397" style="mix-blend-mode:multiply"/>
<rect transform="matrix(1,0.0297,0,1,863.0,866.4)" x="0" y="-8.0" width="133.0" height="6.8" rx="3.2" fill="#cfa6f4" style="mix-blend-mode:multiply"/>
<rect transform="matrix(1,0.0306,0,1,834.0,885.5)" x="0" y="-8.0" width="83.0" height="6.8" rx="3.2" fill="#cfa6f4" style="mix-blend-mode:multiply"/>
<rect transform="matrix(1,0.0329,0,1,866.0,929.3)" x="0" y="-8.0" width="111.0" height="6.8" rx="3.2" fill="#cfa6f4" style="mix-blend-mode:multiply"/>
<rect transform="matrix(1,0.0339,0,1,830.0,947.6)" x="0" y="-8.0" width="111.0" height="6.8" rx="3.2" fill="#cfa6f4" style="mix-blend-mode:multiply"/>
<rect transform="matrix(1,0.0351,0,1,865.0,970.4)" x="0" y="-8.0" width="107.0" height="6.8" rx="3.2" fill="#cfa6f4" style="mix-blend-mode:multiply"/>
<rect transform="matrix(1,0.0361,0,1,837.0,990.0)" x="0" y="-8.0" width="125.0" height="6.8" rx="3.2" fill="#cfa6f4" style="mix-blend-mode:multiply"/>
<rect transform="matrix(1,0.0373,0,1,866.0,1012.8)" x="0" y="-8.0" width="147.0" height="6.8" rx="3.2" fill="#cfa6f4" style="mix-blend-mode:multiply"/>
<rect transform="matrix(1,0.0383,0,1,880.0,1033.3)" x="0" y="-8.0" width="120.0" height="6.8" rx="3.2" fill="#cfa6f4" style="mix-blend-mode:multiply"/>
<rect transform="matrix(1,0.0395,0,1,862.0,1056.6)" x="0" y="-8.0" width="128.0" height="6.8" rx="3.2" fill="#cfa6f4" style="mix-blend-mode:multiply"/>
<rect transform="matrix(1,0.0407,0,1,900.0,1079.7)" x="0" y="-8.0" width="50.0" height="6.8" rx="3.2" fill="#cfa6f4" style="mix-blend-mode:multiply"/>
<rect transform="matrix(1,0.0419,0,1,838.0,1101.1)" x="0" y="-8.0" width="158.0" height="6.8" rx="3.2" fill="#cfa6f4" style="mix-blend-mode:multiply"/>
<rect transform="matrix(1,0.0430,0,1,838.0,1122.2)" x="0" y="-8.0" width="160.0" height="6.8" rx="3.2" fill="#cfa6f4" style="mix-blend-mode:multiply"/>
<rect transform="matrix(1,0.0441,0,1,838.0,1145.0)" x="0" y="-8.0" width="88.0" height="6.8" rx="3.2" fill="#cfa6f4" style="mix-blend-mode:multiply"/>
<rect transform="matrix(1,0.0342,0,1,462.0,953.3)" x="0" y="-11.0" width="103.0" height="14.0" rx="3.2" fill="#ffcdc6" style="mix-blend-mode:multiply"/>
<rect transform="matrix(1,0.0353,0,1,462.0,975.7)" x="0" y="-11.0" width="89.0" height="14.0" rx="3.2" fill="#ffcdc6" style="mix-blend-mode:multiply"/>
<rect transform="matrix(1,0.0364,0,1,461.0,996.4)" x="0" y="-11.0" width="95.0" height="14.0" rx="3.2" fill="#ffcdc6" style="mix-blend-mode:multiply"/>
<rect transform="matrix(1,0.0375,0,1,505.0,1018.2)" x="0" y="-8.0" width="85.0" height="6.8" rx="3.2" fill="#cfa6f4" style="mix-blend-mode:multiply"/>
<rect transform="matrix(1,0.0385,0,1,459.0,1037.1)" x="0" y="-8.0" width="113.0" height="6.8" rx="3.2" fill="#cfa6f4" style="mix-blend-mode:multiply"/>
<rect transform="matrix(1,0.0397,0,1,458.0,1059.5)" x="0" y="-8.0" width="39.0" height="6.8" rx="3.2" fill="#cfa6f4" style="mix-blend-mode:multiply"/>
<rect transform="matrix(1,0.0410,0,1,501.0,1083.7)" x="0" y="-8.0" width="109.0" height="6.8" rx="3.2" fill="#cfa6f4" style="mix-blend-mode:multiply"/>
<rect transform="matrix(1,0.0419,0,1,450.0,1102.6)" x="0" y="-8.0" width="154.0" height="6.8" rx="3.2" fill="#cfa6f4" style="mix-blend-mode:multiply"/>
<rect transform="matrix(1,0.0344,0,1,647.0,958.0)" x="0" y="-11.0" width="105.0" height="14.0" rx="3.2" fill="#ffcdc6" style="mix-blend-mode:multiply"/>
<rect transform="matrix(1,0.0356,0,1,650.0,980.2)" x="0" y="-11.0" width="76.0" height="14.0" rx="3.2" fill="#ffd8d2" style="mix-blend-mode:multiply"/>
<rect transform="matrix(1,0.0367,0,1,647.0,1002.3)" x="0" y="-11.0" width="98.0" height="14.0" rx="3.2" fill="#ffcdc6" style="mix-blend-mode:multiply"/>
</g></g></svg>
<!--/PHOTO-->
</body></html>
